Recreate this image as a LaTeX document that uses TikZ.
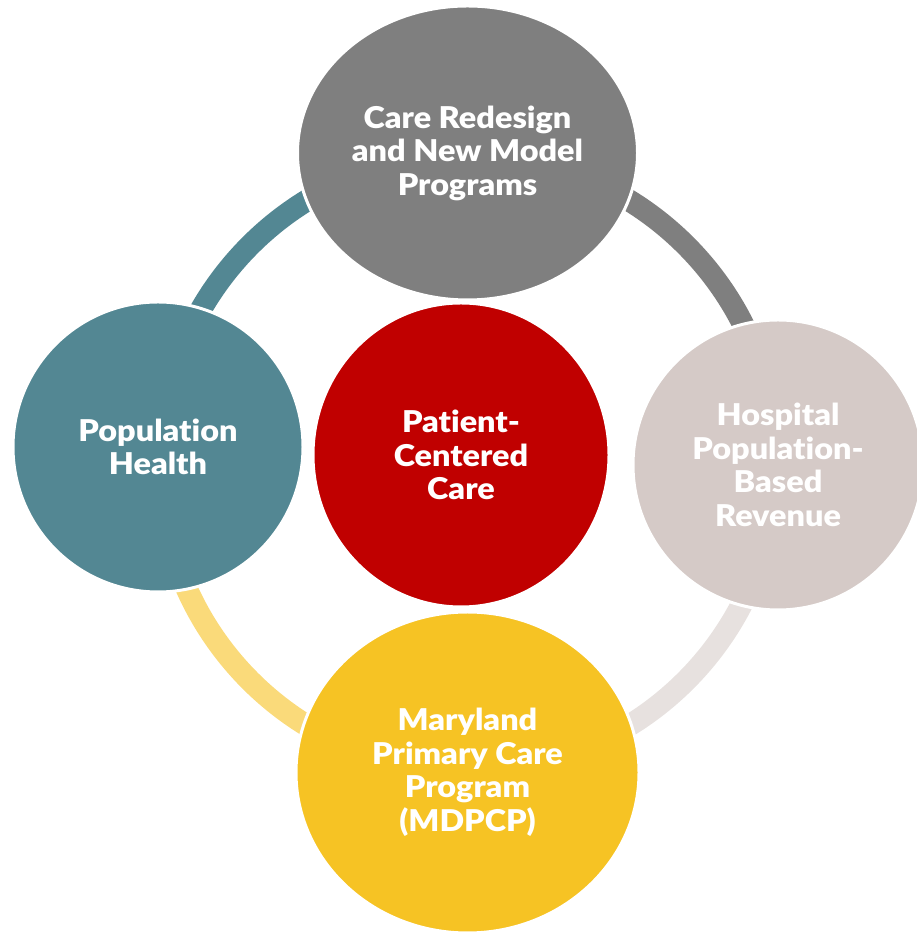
\documentclass[tikz,border=0pt]{standalone}
\usepackage{fontspec}
\setmainfont{Lato}
\newfontfamily\bubblefont{Lato Black}[Ligatures=NoCommon, FakeStretch=1.08]
\usetikzlibrary{shapes.geometric}
\definecolor{cgrey}{HTML}{7F7F7F}
\definecolor{cteal}{HTML}{538793}
\definecolor{cred}{HTML}{C00000}
\definecolor{crose}{HTML}{D5CAC7}
\definecolor{cyellow}{HTML}{F6C324}
\definecolor{cyellowlt}{HTML}{FADA7A}
\definecolor{croselt}{HTML}{E7E1DF}
\tikzset{
  bubble/.style={ellipse, draw=white, line width=3pt, inner sep=0pt, text=white,
    align=center, font=\bubblefont\fontsize{30}{33.5}\selectfont},
  ringarc/.style={line width=22pt, line cap=butt},
}
\begin{document}
\begin{tikzpicture}[x=1pt,y=1pt]
\useasboundingbox (0,0) rectangle (917,936);
\clip (0,0) rectangle (917,936);
\coordinate (ring) at (468,473);
% ring segments
\draw[ringarc, cteal] ([shift={(180:308)}]ring) arc[start angle=180, end angle=90, radius=308];
\draw[ringarc, cgrey] ([shift={(90:308)}]ring) arc[start angle=90, end angle=0, radius=308];
\draw[ringarc, croselt] ([shift={(0:308)}]ring) arc[start angle=0, end angle=-90, radius=308];
\draw[ringarc, cyellowlt] ([shift={(-90:308)}]ring) arc[start angle=-90, end angle=-180, radius=308];
% circles
\node[bubble, fill=cgrey, minimum width=340, minimum height=294] (top) at (467.5,783)
  {Care Redesign\\and New Model\\Programs};
\node[bubble, fill=cteal, minimum width=290, minimum height=290] (left) at (158,489)
  {Population\\Health};
\node[bubble, fill=crose, minimum width=290, minimum height=290] (right) at (778,471)
  {Hospital\\Population-\\Based\\Revenue};
\node[bubble, fill=cyellow, minimum width=343, minimum height=321] (bottom) at (467.5,163.5)
  {Maryland\\Primary Care\\Program\\(MDPCP)};
\node[bubble, fill=cred, minimum width=296, minimum height=304] (center) at (461,481)
  {Patient-\\Centered\\Care};
\end{tikzpicture}
\end{document}
